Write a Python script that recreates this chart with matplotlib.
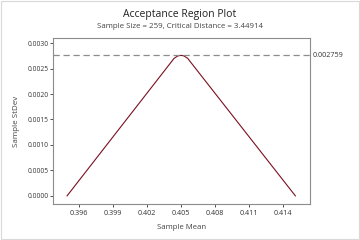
import matplotlib
matplotlib.use("Agg")
import matplotlib.pyplot as plt
from matplotlib.patches import Rectangle

# boundary of acceptance region (sample mean vs max sample stdev)
mean_pts = [0.39497, 0.40440, 0.40475, 0.40500, 0.40525, 0.40560, 0.41509]
sd_pts = [0.0, 0.002700, 0.002750, 0.002759, 0.002750, 0.002700, 0.0]
max_sd = 0.002759
x_ticks = [0.396, 0.399, 0.402, 0.405, 0.408, 0.411, 0.414]
y_ticks = [0.0, 0.0005, 0.0010, 0.0015, 0.0020, 0.0025, 0.0030]

plt.rcParams['font.family'] = ['Open Sans', 'DejaVu Sans']

fig = plt.figure(figsize=(3.6, 2.4), dpi=100)
ax = fig.add_axes([53/360, 1 - 204/240, 257/360, 166/240])

ax.plot(mean_pts, sd_pts, color='#7a1020', lw=0.8)
ax.axhline(max_sd, color='#8c8c8c', lw=0.9, ls=(0, (5, 3)))
ax.text(1.012, max_sd, f'{max_sd:.6f}', transform=ax.get_yaxis_transform(),
        va='center', ha='left', fontsize=5.2, color='#333333')

ax.set_xlim(0.39373, 0.41638)
ax.set_ylim(-0.00016, 0.0031)
ax.set_xticks(x_ticks)
ax.set_xticklabels([f'{v:.3f}' for v in x_ticks])
ax.set_yticks(y_ticks)
ax.set_yticklabels([f'{v:.4f}' for v in y_ticks])
ax.tick_params(labelsize=5.2, length=2.5, width=0.6, colors='#333333', pad=2)
ax.tick_params(axis='y', labelsize=4.8, pad=0.8)
for s in ax.spines.values():
    s.set_color('#8c8c8c')
    s.set_linewidth(0.8)

ax.set_xlabel('Sample Mean', fontsize=5.6, color='#444444', labelpad=5)
ax.set_ylabel('Sample StDev', fontsize=5.8, color='#444444', labelpad=5)

fig.text(0.5, 1 - 15/240, 'Acceptance Region Plot', ha='center', va='center',
         fontsize=7.5, color='#222222')
fig.text(0.5, 1 - 26.5/240, 'Sample Size = 259, Critical Distance = 3.44914',
         ha='center', va='center', fontsize=5.7, color='#444444')

fig.patches.append(Rectangle((0.002, 0.003), 0.995, 0.994, transform=fig.transFigure,
                             fill=False, edgecolor='#d9d9d9', lw=0.8))

fig.savefig('out.png', dpi=100)
